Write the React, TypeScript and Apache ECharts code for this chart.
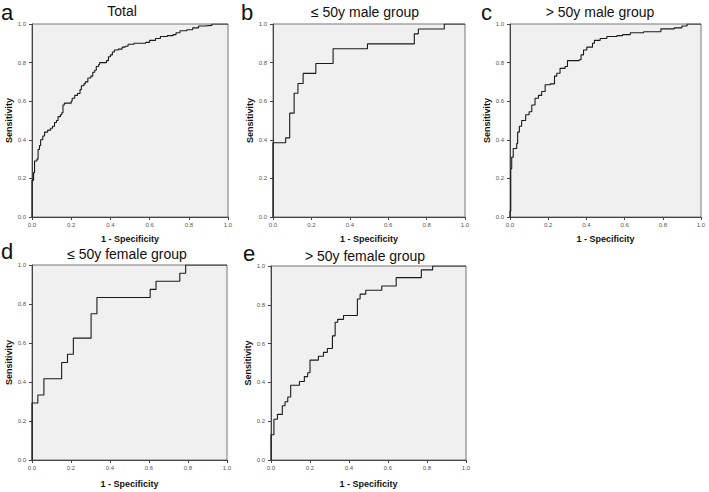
import { useEffect, useRef } from "react";
import * as echarts from "echarts";

const panelTitles = ["Total", "≤ 50y male group", "> 50y male group", "≤ 50y female group", "> 50y female group"];
const panelLetters = ["a", "b", "c", "d", "e"];
const xAxisName = "1 - Specificity";
const yAxisName = "Sensitivity";

// ROC curve vertices [1 - specificity, sensitivity]
const rocTotal: number[][] = [
  [0, 0], [0, 0.19], [0.008, 0.23], [0.013, 0.29], [0.025, 0.3], [0.031, 0.35], [0.038, 0.37],
  [0.044, 0.4], [0.055, 0.42], [0.064, 0.44], [0.08, 0.45], [0.095, 0.46], [0.105, 0.47],
  [0.115, 0.49], [0.125, 0.5], [0.133, 0.52], [0.145, 0.53], [0.152, 0.54], [0.158, 0.58],
  [0.165, 0.59], [0.2, 0.6], [0.205, 0.615], [0.218, 0.63], [0.232, 0.64], [0.245, 0.66],
  [0.252, 0.68], [0.265, 0.69], [0.272, 0.7], [0.285, 0.72], [0.3, 0.73], [0.31, 0.75],
  [0.32, 0.76], [0.328, 0.78], [0.34, 0.79], [0.345, 0.8], [0.38, 0.81], [0.39, 0.83],
  [0.4, 0.84], [0.41, 0.855], [0.42, 0.865], [0.44, 0.87], [0.46, 0.88], [0.475, 0.885],
  [0.49, 0.895], [0.52, 0.9], [0.58, 0.905], [0.6, 0.915], [0.63, 0.925], [0.655, 0.935],
  [0.69, 0.94], [0.72, 0.945], [0.735, 0.955], [0.755, 0.965], [0.79, 0.97], [0.82, 0.98],
  [0.85, 0.99], [0.88, 0.993], [0.918, 1], [1, 1],
];
const rocMaleLe50: number[][] = [
  [0, 0], [0, 0.385], [0.066, 0.41], [0.087, 0.538], [0.11, 0.641], [0.13, 0.692], [0.157, 0.744],
  [0.223, 0.795], [0.313, 0.872], [0.492, 0.897], [0.736, 0.949], [0.757, 0.974], [0.892, 1], [1, 1],
];
const rocMaleGt50: number[][] = [
  [0, 0], [0, 0.03], [0.004, 0.25], [0.009, 0.31], [0.017, 0.355], [0.035, 0.38], [0.04, 0.44],
  [0.049, 0.47], [0.061, 0.5], [0.082, 0.53], [0.1, 0.545], [0.114, 0.58], [0.131, 0.615],
  [0.149, 0.63], [0.166, 0.65], [0.184, 0.685], [0.21, 0.69], [0.233, 0.73], [0.245, 0.745],
  [0.262, 0.77], [0.288, 0.78], [0.301, 0.81], [0.362, 0.815], [0.372, 0.84], [0.385, 0.865],
  [0.402, 0.88], [0.432, 0.9], [0.442, 0.915], [0.472, 0.925], [0.507, 0.935], [0.56, 0.94],
  [0.59, 0.945], [0.63, 0.955], [0.7, 0.96], [0.79, 0.975], [0.86, 0.98], [0.9, 0.99],
  [0.927, 1], [1, 1],
];
const rocFemaleLe50: number[][] = [
  [0, 0], [0, 0.292], [0.03, 0.333], [0.061, 0.417], [0.152, 0.5], [0.182, 0.542], [0.212, 0.625],
  [0.303, 0.75], [0.333, 0.833], [0.606, 0.875], [0.636, 0.917], [0.758, 0.958], [0.788, 1], [1, 1],
];
const rocFemaleGt50: number[][] = [
  [0, 0], [0, 0.13], [0.015, 0.21], [0.033, 0.235], [0.058, 0.28], [0.072, 0.3], [0.086, 0.325],
  [0.101, 0.385], [0.146, 0.405], [0.171, 0.43], [0.188, 0.45], [0.2, 0.515], [0.243, 0.535],
  [0.269, 0.555], [0.289, 0.575], [0.315, 0.64], [0.329, 0.71], [0.342, 0.725], [0.372, 0.745],
  [0.443, 0.83], [0.457, 0.855], [0.486, 0.875], [0.568, 0.897], [0.642, 0.94], [0.771, 0.98],
  [0.829, 1], [1, 1],
];
const curves = [rocTotal, rocMaleLe50, rocMaleGt50, rocFemaleLe50, rocFemaleGt50];

// layout (pixels)
const grids = [
  { left: 32, top: 24, width: 196, height: 193 },
  { left: 273, top: 24, width: 192, height: 193 },
  { left: 510, top: 24, width: 191, height: 193 },
  { left: 32, top: 265, width: 195, height: 195 },
  { left: 271, top: 266, width: 195, height: 194 },
];
const titlePos = [
  { x: 122, y: 11 }, { x: 365, y: 12 }, { x: 600, y: 12 },
  { x: 127, y: 254 }, { x: 365, y: 256 },
];
// top of the letter text box
const letterPos = [
  { x: 1, y: 1 }, { x: 241, y: 1 }, { x: 481, y: 1 },
  { x: 1, y: 240 }, { x: 243, y: 242 },
];

const FONT = "'Liberation Sans', Arial, Helvetica, sans-serif";

export default function App() {
  const ref = useRef<HTMLDivElement>(null);
  useEffect(() => {
    if (!ref.current) return;
    const chart = echarts.init(ref.current, undefined, { renderer: "svg" });
    const axisCommon = {
      type: "value" as const,
      min: 0,
      max: 1,
      interval: 0.2,
      nameLocation: "middle" as const,
      nameTextStyle: { fontFamily: FONT, fontWeight: "bold" as const, fontSize: 9, color: "#111" },
      axisLine: { show: true, lineStyle: { color: "#444", width: 1 } },
      axisTick: { show: true, inside: false, length: 3, lineStyle: { color: "#444", width: 1 } },
      splitLine: { show: false },
    };
    chart.setOption({
      animation: false,
      backgroundColor: "#ffffff",
      textStyle: { fontFamily: FONT },
      grid: grids.map((g) => ({
        ...g,
        show: true,
        backgroundColor: "#f0f0f0",
        borderColor: "#777",
        borderWidth: 1,
        containLabel: false,
      })),
      xAxis: grids.map((_, i) => ({
        ...axisCommon,
        gridIndex: i,
        name: xAxisName,
        nameGap: i < 3 ? 17 : 19,
        axisLabel: {
          fontSize: 6,
          color: "#555",
          margin: 5,
          fontFamily: FONT,
          formatter: (v: number) => v.toFixed(1),
        },
      })),
      yAxis: grids.map((_, i) => ({
        ...axisCommon,
        gridIndex: i,
        name: yAxisName,
        nameGap: 15,
        axisLabel: {
          fontSize: 6,
          color: "#555",
          margin: 6,
          fontFamily: FONT,
          formatter: (v: number) => v.toFixed(1),
        },
      })),
      series: curves.map((data, i) => ({
        type: "line",
        xAxisIndex: i,
        yAxisIndex: i,
        data,
        step: "end",
        showSymbol: false,
        symbol: "none",
        lineStyle: { color: "#1a1a1a", width: 1.1 },
        silent: true,
      })),
      graphic: [
        ...panelTitles.map((t, i) => ({
          type: "text",
          x: titlePos[i].x,
          y: titlePos[i].y,
          style: {
            text: t,
            fontSize: 14,
            fontFamily: FONT,
            fill: "#111",
            textAlign: "center",
            textVerticalAlign: "middle",
          },
        })),
        ...panelLetters.map((t, i) => ({
          type: "text",
          x: letterPos[i].x,
          y: letterPos[i].y,
          style: {
            text: t,
            fontSize: 22,
            lineHeight: 22,
            fontFamily: FONT,
            fill: "#111",
            textAlign: "left",
            textVerticalAlign: "top",
          },
        })),
      ],
    });
    return () => chart.dispose();
  }, []);
  return (
    <div
      ref={ref}
      style={{ position: "fixed", left: 0, top: 0, width: 709, height: 492, background: "#fff" }}
    />
  );
}
